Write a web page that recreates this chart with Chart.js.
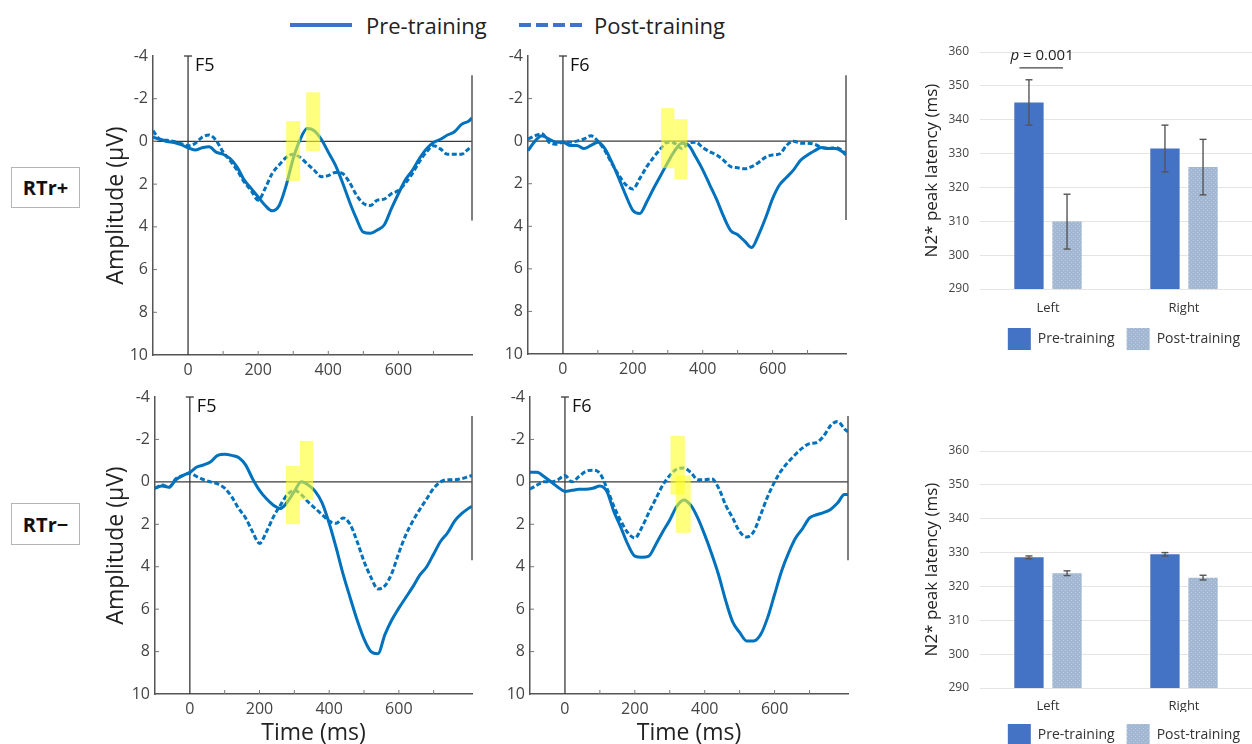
<!DOCTYPE html>
<html>
<head>
<meta charset="utf-8">
<script src="https://cdn.jsdelivr.net/npm/chart.js@4.4.1/dist/chart.umd.min.js"></script>
<style>
  body { margin: 0; width: 1252px; height: 744px; overflow: hidden; background: #fff; position: relative; font-family: "Open Sans", sans-serif; }
  canvas { position: absolute; }
  .tag { position: absolute; box-sizing: border-box; border: 1px solid #b5b5b5; font-weight: bold; font-size: 20px; color: #111;
         display: flex; align-items: center; justify-content: center; }
  .key { position: absolute; font-size: 22px; line-height: 30px; color: #222; white-space: nowrap; }
  svg { position: absolute; }
</style>
</head>
<body>

<svg style="left:290px;top:22px" width="62" height="6"><line x1="0" y1="3" x2="62" y2="3" stroke="#3d74c8" stroke-width="4"/></svg>
<div class="key" style="left:366px;top:10px">Pre-training</div>
<svg style="left:519px;top:22px" width="63" height="6"><line x1="0" y1="3" x2="63" y2="3" stroke="#3d74c8" stroke-width="4" stroke-dasharray="12 5"/></svg>
<div class="key" style="left:594px;top:10px">Post-training</div>

<div class="tag" style="left:11px;top:167px;width:69px;height:41px">RTr+</div>
<div class="tag" style="left:11px;top:503px;width:69px;height:42px">RTr−</div>

<canvas id="f5plus" width="390" height="345" style="left:100px;top:40px"></canvas>
<canvas id="f6plus" width="384" height="345" style="left:480px;top:40px"></canvas>
<canvas id="f5minus" width="390" height="364" style="left:100px;top:380px"></canvas>
<canvas id="f6minus" width="386" height="364" style="left:480px;top:380px"></canvas>
<canvas id="barPlus" width="337" height="330" style="left:915px;top:30px"></canvas>
<canvas id="barMinus" width="337" height="336" style="left:915px;top:420px"></canvas>

<script>
// time axis (ms) of the averaged waveforms
const times = [-100, -80, -60, -40, -20, 0, 20, 40, 60, 80, 100, 120, 140, 160, 180, 200, 220, 240, 260, 280,
  300, 320, 340, 360, 380, 400, 420, 440, 460, 480, 500, 520, 540, 560, 580, 600, 620, 640, 660, 680,
  700, 720, 740, 760, 780, 800, 810];

// amplitudes in microvolts
const f5PlusPre = [-0.2, -0.1, 0, 0.05, 0.15, 0.3, 0.4, 0.3, 0.25, 0.5, 0.6, 0.8, 1.2, 1.8, 2.2, 2.6, 3.0, 3.25, 3.0, 2.05,
  0.8, -0.1, -0.6, -0.5, -0.1, 0.5, 1.1, 1.9, 2.8, 3.6, 4.25, 4.3, 4.15, 3.9, 3.15, 2.45, 1.8, 1.35, 0.8, 0.35,
  0.05, -0.1, -0.3, -0.45, -0.8, -0.95, -1.1];
const f5PlusPost = [-0.5, -0.1, -0.05, 0, 0.1, 0.2, 0.1, -0.2, -0.3, -0.05, 0.5, 0.9, 1.35, 1.9, 2.3, 2.75, 2.2, 1.5, 1.1, 0.75,
  0.6, 0.75, 1.05, 1.35, 1.65, 1.6, 1.45, 1.5, 1.9, 2.5, 2.9, 3.0, 2.75, 2.7, 2.45, 2.3, 1.95, 1.5, 0.95, 0.5,
  0.2, 0.35, 0.6, 0.6, 0.6, 0.35, 0.25];
const f6PlusPre = [0.45, 0, -0.25, -0.1, 0.05, 0.05, 0.2, 0.2, 0.35, 0.2, 0.05, 0.35, 1.0, 1.75, 2.55, 3.25, 3.4, 2.85, 2.2, 1.6,
  1.0, 0.45, 0.1, 0.2, 0.75, 1.35, 2.05, 2.75, 3.55, 4.2, 4.4, 4.7, 5.0, 4.4, 3.6, 2.7, 2.05, 1.7, 1.35, 0.9,
  0.65, 0.45, 0.3, 0.35, 0.35, 0.5, 0.65];
const f6PlusPost = [-0.1, -0.25, -0.35, 0.05, 0.15, 0.05, 0.05, 0, -0.1, -0.25, 0, 0.45, 1.05, 1.6, 2.05, 2.25, 1.75, 1.2, 0.75, 0.35,
  0.05, 0.1, 0.35, 0.1, 0.05, 0.3, 0.5, 0.65, 0.9, 1.2, 1.25, 1.3, 1.2, 1.0, 0.75, 0.65, 0.6, 0.2, 0, 0.1,
  0.1, 0.15, 0.3, 0.35, 0.3, 0.45, 0.6];
const f5MinusPre = [0.3, 0.2, 0.25, -0.1, -0.3, -0.45, -0.7, -0.8, -0.95, -1.25, -1.3, -1.25, -1.15, -0.8, -0.15, 0.4, 0.8, 1.1, 1.25, 0.95,
  0.45, 0, 0.15, 0.45, 1.0, 1.95, 3.1, 4.35, 5.45, 6.5, 7.4, 8.0, 8.1, 7.2, 6.5, 5.95, 5.45, 4.95, 4.4, 4.0,
  3.4, 2.8, 2.4, 1.85, 1.5, 1.25, 1.15];
const f5MinusPost = [0.3, 0.15, 0.25, -0.15, -0.3, -0.4, -0.25, -0.1, 0, 0.1, 0.3, 0.7, 1.25, 1.7, 2.35, 2.9, 2.35, 1.65, 1.1, 0.6,
  0.4, 0.6, 0.95, 1.25, 1.55, 1.85, 1.95, 1.7, 2.0, 2.8, 3.75, 4.5, 5.05, 4.9, 4.3, 3.35, 2.5, 1.85, 1.3, 0.8,
  0.3, 0, -0.1, -0.1, -0.15, -0.25, -0.3];
const f6MinusPre = [-0.45, -0.45, -0.25, 0, 0.25, 0.45, 0.4, 0.35, 0.35, 0.3, 0.2, 0.45, 1.4, 2.15, 2.95, 3.5, 3.55, 3.5, 2.95, 2.35,
  1.8, 1.15, 0.85, 1.1, 1.7, 2.5, 3.4, 4.4, 5.6, 6.6, 7.1, 7.5, 7.5, 7.2, 6.4, 5.3, 4.2, 3.35, 2.65, 2.2,
  1.7, 1.55, 1.45, 1.3, 1.0, 0.6, 0.6];
const f6MinusPost = [0.35, 0.15, 0, 0, -0.1, -0.3, 0, -0.25, -0.5, -0.55, -0.4, 0.3, 1.15, 1.85, 2.4, 2.65, 2.15, 1.45, 0.8, 0.15,
  -0.3, -0.6, -0.65, -0.45, -0.1, -0.1, -0.15, 0.3, 1.1, 1.7, 2.35, 2.6, 2.35, 1.55, 0.7, 0, -0.55, -0.95, -1.3, -1.6,
  -1.8, -1.85, -2.15, -2.65, -2.85, -2.5, -2.35];

// N2* windows: [from ms, to ms, top uV, bottom uV]
const f5PlusWindows = [[280, 320, -0.95, 1.85], [337, 377, -2.3, 0.45]];
const f6PlusWindows = [[281, 319, -1.55, 1.27], [319, 356, -1.03, 1.78]];
const f5MinusWindows = [[276, 316, -0.75, 2.0], [316, 354, -1.93, 0.85]];
const f6MinusWindows = [[302, 343, -2.17, 0.6], [317, 360, -0.3, 2.4]];

const timeTicks = [0, 200, 400, 600];
const minorTimes = [100, 200, 300, 400, 500, 600, 700];
const ampMarks = [-2, 0, 2, 4, 6, 8];
const edgeSpan = [-3.1, 3.7];

// peak latency bars (ms)
const sides = ['Left', 'Right'];
const plusPre = [345.1, 331.5];
const plusPreErr = [6.7, 6.9];
const plusPost = [309.9, 326.0];
const plusPostErr = [8.1, 8.2];
const minusPre = [328.6, 329.5];
const minusPreErr = [0.4, 0.5];
const minusPost = [323.9, 322.6];
const minusPostErr = [0.7, 0.7];
const sigLevel = 355.3;

Chart.defaults.font.family = '"Open Sans", sans-serif';
Chart.defaults.color = '#444';

const erpBlue = 'rgb(0,114,189)';

function seg(ctx, x1, y1, x2, y2) {
  ctx.beginPath(); ctx.moveTo(x1, y1); ctx.lineTo(x2, y2); ctx.stroke();
}

const erpDecor = {
  id: 'erpDecor',
  beforeDatasetsDraw(chart) {
    const {ctx, chartArea: a, scales: {x, y}} = chart;
    ctx.save();
    ctx.strokeStyle = '#3a3a3a';
    ctx.lineWidth = 1.3;
    const y0 = y.getPixelForValue(0), x0 = x.getPixelForValue(0);
    seg(ctx, a.left, y0, a.right, y0);
    seg(ctx, x0, a.top, x0, a.bottom);
    seg(ctx, x0 - 4, a.top, x0 + 4, a.top);
    ctx.strokeStyle = '#555';
    ctx.lineWidth = 1.5;
    seg(ctx, a.right, y.getPixelForValue(edgeSpan[0]), a.right, y.getPixelForValue(edgeSpan[1]));
    ctx.lineWidth = 1;
    ctx.strokeStyle = '#777';
    minorTimes.forEach(t => {
      const px = x.getPixelForValue(t);
      seg(ctx, px, a.bottom, px, a.bottom - 4);
    });
    ampMarks.forEach(v => {
      const py = y.getPixelForValue(v);
      seg(ctx, a.left, py, a.left + 4, py);
    });
    ctx.restore();
  },
  afterDatasetsDraw(chart, args, opts) {
    const {ctx, chartArea: a, scales: {x, y}} = chart;
    ctx.save();
    ctx.fillStyle = 'rgba(255,255,40,0.6)';
    opts.windows.forEach(w => {
      const l = x.getPixelForValue(w[0]), r = x.getPixelForValue(w[1]);
      const t = y.getPixelForValue(w[2]), b = y.getPixelForValue(w[3]);
      ctx.fillRect(l, t, r - l, b - t);
    });
    ctx.fillStyle = '#111';
    ctx.font = '18px "Open Sans"';
    ctx.textBaseline = 'top';
    ctx.fillText(opts.label, x.getPixelForValue(0) + 7, a.top + 1);
    ctx.restore();
  }
};

function erp(id, pre, post, windows, label, g) {
  new Chart(document.getElementById(id), {
    type: 'line',
    data: {
      datasets: [
        { label: 'Pre-training', data: times.map((t, i) => ({x: t, y: pre[i]})),
          borderColor: erpBlue, borderWidth: 3, pointRadius: 0, cubicInterpolationMode: 'monotone' },
        { label: 'Post-training', data: times.map((t, i) => ({x: t, y: post[i]})),
          borderColor: erpBlue, borderWidth: 3, borderDash: [5, 2.5], pointRadius: 0, cubicInterpolationMode: 'monotone' }
      ]
    },
    options: {
      responsive: false,
      animation: false,
      layout: { padding: { top: g.padTop, right: g.padRight, left: 0, bottom: 0 } },
      plugins: {
        legend: { display: false },
        tooltip: { enabled: false },
        erpDecor: { windows: windows, label: label }
      },
      scales: {
        x: {
          type: 'linear', min: -100, max: 810,
          afterBuildTicks: s => { s.ticks = timeTicks.map(v => ({value: v})); },
          afterFit: s => { s.height = g.xHeight; },
          grid: { color: 'rgba(0,0,0,0)', drawTicks: false },
          border: { display: true, color: '#555', width: 1.5 },
          ticks: { font: { size: 16 }, color: '#444', padding: 6, maxRotation: 0 },
          title: { display: g.xTitle, text: 'Time (ms)', color: '#222', font: { size: 23 }, padding: { top: 0, bottom: -3 } }
        },
        y: {
          min: -4, max: 10, reverse: true,
          afterFit: s => { s.width = g.yWidth; },
          grid: { color: 'rgba(0,0,0,0)', drawTicks: false },
          border: { display: true, color: '#555', width: 1.5 },
          ticks: { stepSize: 2, font: { size: 16 }, color: '#444', padding: 5 },
          title: { display: g.yTitle, text: 'Amplitude (μV)', color: '#222', font: { size: 23 }, padding: { top: 3, bottom: 0 } }
        }
      }
    },
    plugins: [erpDecor]
  });
}

erp('f5plus', f5PlusPre, f5PlusPost, f5PlusWindows, 'F5', { yWidth: 53, padTop: 16, padRight: 18, xHeight: 30, xTitle: false, yTitle: true });
erp('f6plus', f6PlusPre, f6PlusPost, f6PlusWindows, 'F6', { yWidth: 48, padTop: 16, padRight: 18, xHeight: 31, xTitle: false, yTitle: false });
erp('f5minus', f5MinusPre, f5MinusPost, f5MinusWindows, 'F5', { yWidth: 55, padTop: 17, padRight: 18, xHeight: 50, xTitle: true, yTitle: true });
erp('f6minus', f6MinusPre, f6MinusPost, f6MinusWindows, 'F6', { yWidth: 50, padTop: 17, padRight: 18, xHeight: 50, xTitle: true, yTitle: false });

// speckled fill used for the post-training bars
function speckle() {
  const c = document.createElement('canvas');
  c.width = 4; c.height = 4;
  const g = c.getContext('2d');
  g.fillStyle = '#a2b7d2';
  g.fillRect(0, 0, 4, 4);
  g.fillStyle = '#bccbe0';
  g.fillRect(0, 0, 1, 1);
  g.fillRect(2, 2, 1, 1);
  return g.createPattern(c, 'repeat');
}

const errBars = {
  id: 'errBars',
  afterDatasetsDraw(chart, args, opts) {
    const {ctx, scales: {y}} = chart;
    ctx.save();
    ctx.strokeStyle = '#555';
    ctx.lineWidth = 1.4;
    opts.errors.forEach((errs, i) => {
      const meta = chart.getDatasetMeta(i);
      const vals = chart.data.datasets[i].data;
      meta.data.forEach((bar, j) => {
        const t = y.getPixelForValue(vals[j] + errs[j]);
        const b = y.getPixelForValue(vals[j] - errs[j]);
        seg(ctx, bar.x, t, bar.x, b);
        seg(ctx, bar.x - 3.5, t, bar.x + 3.5, t);
        seg(ctx, bar.x - 3.5, b, bar.x + 3.5, b);
      });
    });
    if (opts.sig) {
      const a = chart.getDatasetMeta(0).data[0], b = chart.getDatasetMeta(1).data[0];
      const ly = y.getPixelForValue(sigLevel);
      ctx.strokeStyle = '#444';
      ctx.lineWidth = 1.2;
      seg(ctx, a.x - 9.5, ly, b.x - 4, ly);
      ctx.fillStyle = '#222';
      ctx.textBaseline = 'alphabetic';
      ctx.font = 'italic 15px "Open Sans"';
      const px = a.x - 18.5, py = ly - 8;
      ctx.fillText('p', px, py);
      const w = ctx.measureText('p').width;
      ctx.font = '15px "Open Sans"';
      ctx.fillText(' = 0.001', px + w, py);
    }
    ctx.restore();
  }
};

function latency(id, pre, preErr, post, postErr, sig, g) {
  new Chart(document.getElementById(id), {
    type: 'bar',
    data: {
      labels: sides,
      datasets: [
        { label: 'Pre-training', data: pre, backgroundColor: '#4472c4', borderWidth: 0,
          categoryPercentage: 0.56, barPercentage: 0.77 },
        { label: 'Post-training', data: post, backgroundColor: speckle(), borderWidth: 0,
          categoryPercentage: 0.56, barPercentage: 0.77 }
      ]
    },
    options: {
      responsive: false,
      animation: false,
      layout: { padding: { top: g.padTop, right: 0, left: 0, bottom: 0 } },
      plugins: {
        tooltip: { enabled: false },
        legend: {
          position: 'bottom', align: 'end',
          labels: { boxWidth: 23, boxHeight: 22, padding: 12, color: '#333', font: { size: 14 } }
        },
        errBars: { errors: [preErr, postErr], sig: sig }
      },
      scales: {
        x: {
          afterFit: s => { s.height = g.xHeight; },
          grid: { display: false, drawTicks: false },
          border: { display: false },
          ticks: { font: { size: 13 }, color: '#333', padding: g.labelPad }
        },
        y: {
          min: 290, max: 360,
          afterFit: s => { s.width = 65; },
          grid: { color: '#e4e4e4', drawTicks: false },
          border: { display: false },
          ticks: { stepSize: 10, font: { size: 12 }, color: '#444', padding: 11 },
          title: { display: true, text: 'N2* peak latency (ms)', color: '#222', font: { size: 17 }, padding: { top: 7, bottom: 0 } }
        }
      }
    },
    plugins: [errBars]
  });
}

latency('barPlus', plusPre, plusPreErr, plusPost, plusPostErr, true, { padTop: 22, xHeight: 27, labelPad: 11 });
latency('barMinus', minusPre, minusPreErr, minusPost, minusPostErr, false, { padTop: 31, xHeight: 24, labelPad: 10 });
</script>
</body>
</html>
